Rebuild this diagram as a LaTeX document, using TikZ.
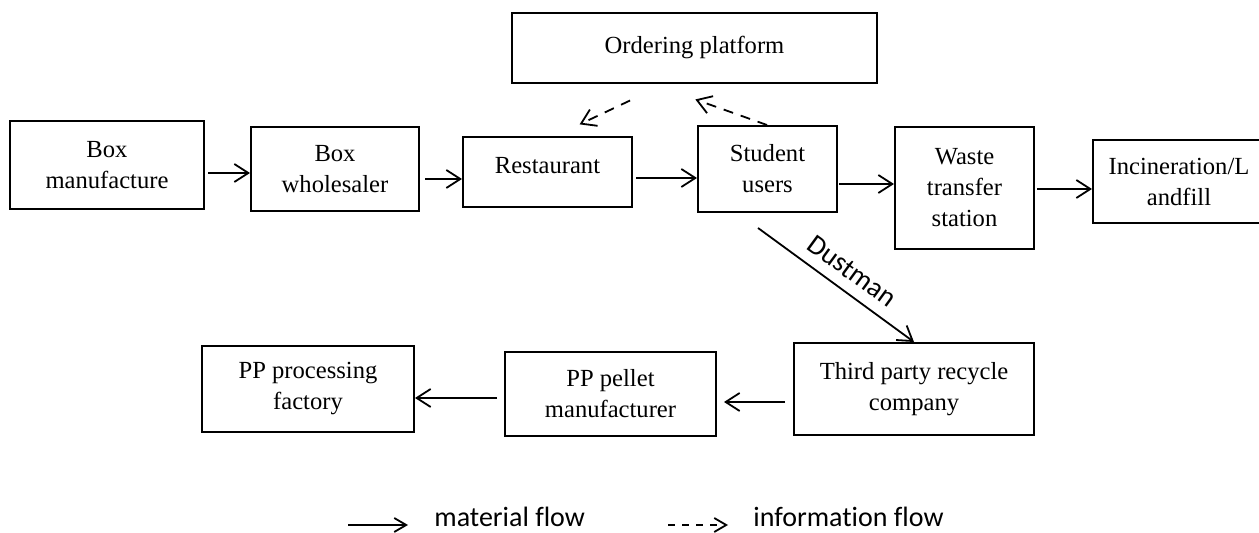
\documentclass[tikz,border=0pt]{standalone}
\usepackage{fontspec}
\setmainfont{Liberation Serif}[Ligatures=NoCommon]
\newfontfamily\calibri{Carlito}[Ligatures=NoCommon]
\usetikzlibrary{arrows.meta}

\begin{document}
\begin{tikzpicture}[x=0.5pt,y=-0.5pt,
  box/.style={draw, line width=1pt, align=center, inner sep=2pt, font=\fontsize{12.3}{15.5}\selectfont},
  flow/.style={line width=0.9pt, -{Straight Barb[length=7pt,width=9pt]}},
  info/.style={flow, dash pattern=on 5pt off 4pt}]
\useasboundingbox (0,0) rectangle (1259,533);

% upper chain
\node[box, minimum width=97pt, minimum height=44pt] (boxman) at (107,165) {Box\\manufacture};
\node[box, minimum width=84pt, minimum height=42pt] (boxwhole) at (335,169) {Box\\wholesaler};
\node[box, minimum width=84.5pt, minimum height=35pt] (rest) at (547.5,172) {\raisebox{7pt}{Restaurant}};
\node[box, minimum width=182.5pt, minimum height=35pt] (order) at (694.5,48) {Ordering platform};
\node[box, minimum width=69.5pt, minimum height=43pt] (student) at (767.5,169) {Student\\users};
\node[box, minimum width=69.5pt, minimum height=61pt] (waste) at (964.5,188) {Waste\\transfer\\station};
\node[box, minimum width=86pt, minimum height=41.5pt] (incin) at (1179,181.5) {Incineration/L\\andfill};

% lower chain
\node[box, minimum width=120pt, minimum height=46pt] (third) at (914,389) {Third party recycle\\company};
\node[box, minimum width=105.5pt, minimum height=42pt] (pellet) at (610.5,394) {PP pellet\\manufacturer};
\node[box, minimum width=106pt, minimum height=43pt] (proc) at (308,389) {PP processing\\factory};

\draw[flow, shorten <=1.5pt] (boxman.east |- 0,173) -- (boxwhole.west |- 0,173);
\draw[flow, shorten <=2.5pt] (boxwhole.east |- 0,179) -- (rest.west |- 0,179);
\draw[flow, shorten <=1.5pt] (rest.east |- 0,178) -- (student.west |- 0,178);
\draw[flow, shorten <=0.5pt] (student.east |- 0,184) -- (waste.west |- 0,184);
\draw[flow, shorten <=1pt] (waste.east |- 0,189) -- (incin.west |- 0,189);
\draw[flow, shorten <=4pt, shorten >=3.5pt] (third.west |- 0,402) -- (pellet.east |- 0,402);
\draw[flow, shorten <=3.5pt] (pellet.west |- 0,398) -- (proc.east |- 0,398);

\draw[info, shorten <=19.3pt, shorten >=13.6pt] (order.south -| 665,0) -- (rest.north -| 555,0);
\draw[info, shorten >=23pt] (student.north -| 767,0) -- (order.south -| 652,0);

\draw[flow, shorten <=12.7pt] (student.south -| 737.5,0) -- (third.north -| 914,0)
  node[sloped, above=2pt, pos=0.58, font=\calibri\fontsize{14}{16}\selectfont] (dust) {Dustman};

% legend
\coordinate (mfa) at (348,525);
\coordinate (mfb) at (408,525);
\coordinate (ifa) at (668,525);
\coordinate (ifb) at (728,525);
\draw[line width=0.9pt, -{Straight Barb[length=6pt,width=7pt]}] (mfa) -- (mfb);
\draw[line width=0.9pt, dash pattern=on 3.5pt off 3.5pt, -{Straight Barb[length=6pt,width=7pt]}] (ifa) -- (ifb);
\node[anchor=base west, inner sep=0pt, font=\calibri\fontsize{14}{16}\selectfont] (mflow) at (434,527) {material flow};
\node[anchor=base west, inner sep=0pt, font=\calibri\fontsize{14}{16}\selectfont] (iflow) at (753,527) {information flow};
\end{tikzpicture}
\end{document}
